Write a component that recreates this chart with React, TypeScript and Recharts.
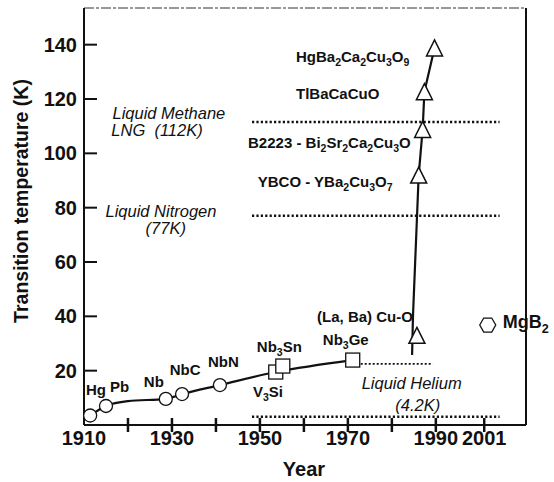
import React from "react";
import { ComposedChart, Line, Scatter, XAxis, YAxis, ReferenceLine } from "recharts";

const FONT = "'Liberation Sans', Arial, Helvetica, sans-serif";

// ---------- data ----------
const lowTcNames = ["Hg", "Pb", "Nb", "NbC", "NbN"];
const lowTcYears = [1911.4, 1915.0, 1928.6, 1932.3, 1940.9];
const lowTcTemps = [3.5, 7.0, 9.6, 11.4, 14.7];

const a15Names = ["V3Si", "Nb3Sn", "Nb3Ge"];
const a15Years = [1953.6, 1955.2, 1971.1];
const a15Temps = [19.5, 21.7, 23.9];

const cuprateNames = ["(La, Ba) Cu-O", "YBCO", "B2223", "TlBaCaCuO", "HgBa2Ca2Cu3O9"];
const cuprateYears = [1985.7, 1986.1, 1987.0, 1987.4, 1989.7];
const cuprateTemps = [33.0, 92.0, 108.8, 122.7, 138.8];

const mgb2Years = [2001.8];
const mgb2Temps = [36.8];

// trend curves
const trendYears = [1911.4, 1915.0, 1920.0, 1928.6, 1932.3, 1940.9, 1953.6, 1971.1];
const trendTemps = [3.5, 7.0, 8.8, 9.6, 11.4, 14.7, 19.5, 23.9];
const cuprateTrendYears = [1984.6, 1984.8, 1986.1, 1987.0, 1987.4, 1989.7];
const cuprateTrendTemps = [25.8, 40.0, 92.0, 108.8, 122.7, 138.8];

// coolant reference levels
const coolantNames = ["Liquid Methane", "Liquid Nitrogen", "Liquid Helium"];
const coolantTemps = [111.5, 77, 3];
const coolantSpan = [1948.2, 2004.5];
const plateauYears = [1971.1, 1989.3];
const plateauTemp = 22.5;

// axis ticks
const xTicks = [1910, 1920, 1930, 1940, 1950, 1960, 1970, 1980, 1990, 2001];
const xTickLabels = [1910, 1930, 1950, 1970, 1990, 2001];
const yTicks = [20, 40, 60, 80, 100, 120, 140];

// annotations (anchor in data units)
const boldLabelTexts = [
  "Hg", "Pb", "Nb", "NbC", "NbN", "Nb_3Sn", "V_3Si", "Nb_3Ge",
  "(La, Ba) Cu-O", "YBCO - YBa_2Cu_3O_7", "B2223 - Bi_2Sr_2Ca_2Cu_3O",
  "TlBaCaCuO", "HgBa_2Ca_2Cu_3O_9",
];
const boldLabelYears = [1910.45, 1915.9, 1923.6, 1929.5, 1938.2, 1949.3, 1948.4, 1964.3, 1963.0, 1949.5, 1947.3, 1958.2, 1958.2];
const boldLabelTemps = [11.0, 12.1, 14.0, 18.4, 21.3, 26.9, 10.3, 29.4, 37.9, 87.6, 101.9, 120.0, 133.6];

const mgb2LabelText = "MgB_2";
const mgb2LabelYear = 2005.2;
const mgb2LabelTemp = 35.7;

const italicLabelTexts = ["Liquid Methane", "LNG  (112K)", "Liquid Nitrogen", "(77K)", "Liquid Helium", "(4.2K)"];
const italicLabelYears = [1929.3, 1926.6, 1927.5, 1928.6, 1984.5, 1985.9];
const italicLabelTemps = [112.8, 106.4, 76.7, 70.3, 13.4, 5.0];

// ---------- built tables ----------
const zip = (ys: number[], ts: number[], names?: string[]) =>
  ys.map((y, i) => ({ year: y, temp: ts[i], name: names ? names[i] : "" }));

const lowTcData = zip(lowTcYears, lowTcTemps, lowTcNames);
const a15Data = zip(a15Years, a15Temps, a15Names);
const cuprateData = zip(cuprateYears, cuprateTemps, cuprateNames);
const mgb2Data = zip(mgb2Years, mgb2Temps, ["MgB2"]);
const trendData = zip(trendYears, trendTemps);
const cuprateTrendData = zip(cuprateTrendYears, cuprateTrendTemps);
const boldLabels = boldLabelYears.map((y, i) => ({ year: y, temp: boldLabelTemps[i], text: boldLabelTexts[i] }));
const mgb2Label = [{ year: mgb2LabelYear, temp: mgb2LabelTemp, text: mgb2LabelText }];
const italicLabels = italicLabelYears.map((y, i) => ({ year: y, temp: italicLabelTemps[i], text: italicLabelTexts[i] }));

// ---------- render helpers ----------
function RichText(props: {
  x: number; y: number; text: string; size: number; anchor: string; weight: string; italic?: boolean;
}) {
  const { x, y, text, size, anchor, weight, italic } = props;
  const parts = text.split(/(_\d)/).filter((p) => p.length > 0);
  const shift = size * 0.28;
  let sub = false;
  const spans = parts.map((p, i) => {
    if (p.startsWith("_")) {
      const dy = sub ? 0 : shift;
      sub = true;
      return (
        <tspan key={i} fontSize={size * 0.7} dy={dy}>
          {p.slice(1)}
        </tspan>
      );
    }
    const dy = sub ? -shift : 0;
    sub = false;
    return (
      <tspan key={i} dy={dy}>
        {p}
      </tspan>
    );
  });
  return (
    <text
      x={x}
      y={y}
      fontSize={size}
      fontWeight={weight}
      fontStyle={italic ? "italic" : "normal"}
      textAnchor={anchor as any}
      fontFamily={FONT}
      fill="#111"
      style={{ whiteSpace: "pre" }}
    >
      {spans}
    </text>
  );
}

const STROKE = "#111";

const CircleMark = (p: any) => (
  <circle cx={p.cx} cy={p.cy} r={6.5} fill="#fff" stroke={STROKE} strokeWidth={1.3} />
);
const SquareMark = (p: any) => (
  <rect x={p.cx - 7} y={p.cy - 7} width={14} height={14} fill="#fff" stroke={STROKE} strokeWidth={1.3} />
);
const TriangleMark = (p: any) => (
  <polygon
    points={`${p.cx},${p.cy - 8} ${p.cx + 8},${p.cy + 8} ${p.cx - 8},${p.cy + 8}`}
    fill="#fff"
    stroke={STROKE}
    strokeWidth={1.5}
  />
);
const HexMark = (p: any) => (
  <polygon
    points={`${p.cx - 8},${p.cy} ${p.cx - 4},${p.cy - 7} ${p.cx + 4},${p.cy - 7} ${p.cx + 8},${p.cy} ${p.cx + 4},${p.cy + 7} ${p.cx - 4},${p.cy + 7}`}
    fill="#fff"
    stroke={STROKE}
    strokeWidth={1.3}
  />
);

const XTick = (p: any) => {
  const v = p.payload.value;
  const show = xTickLabels.includes(v);
  return (
    <g>
      {v !== 1910 && <line x1={p.x} x2={p.x} y1={p.y - 7} y2={p.y + 7} stroke={STROKE} strokeWidth={2.5} />}
      {show && (
        <text x={p.x} y={p.y + 20} textAnchor="middle" fontSize={20} fontWeight="bold" fontFamily={FONT} fill="#111">
          {v}
        </text>
      )}
    </g>
  );
};

const YTickLeft = (p: any) => (
  <g>
    <line x1={p.x} x2={p.x + 13} y1={p.y} y2={p.y} stroke={STROKE} strokeWidth={2} />
    <text x={p.x - 7} y={p.y + 7} textAnchor="end" fontSize={20} fontWeight="bold" fontFamily={FONT} fill="#111">
      {p.payload.value}
    </text>
  </g>
);

const YTickRight = (p: any) => (
  <g>
    <line x1={p.x} x2={p.x - 13} y1={p.y} y2={p.y} stroke={STROKE} strokeWidth={2} />
  </g>
);

export default function App() {
  return (
    <div style={{ position: "absolute", left: 0, top: 0, fontFamily: FONT }}>
      <ComposedChart width={554} height={482} margin={{ top: 7, right: 27, bottom: 56, left: 83 }}>
        <XAxis
          type="number"
          dataKey="year"
          domain={[1910, 2010.5]}
          ticks={xTicks}
          interval={0}
          height={1}
          tickSize={0}
          tickMargin={0}
          tickLine={false}
          axisLine={{ stroke: STROKE, strokeWidth: 2 }}
          tick={<XTick />}
          label={{
            content: (lp: any) => (
              <text x={304} y={476} textAnchor="middle" fontSize={20} fontWeight="bold" fontFamily={FONT} fill="#111">
                Year
              </text>
            ),
          }}
        />
        <XAxis
          xAxisId="top"
          orientation="top"
          type="number"
          dataKey="year"
          domain={[1910, 2010.5]}
          height={1}
          tick={false}
          tickLine={false}
          axisLine={{ stroke: "#333", strokeWidth: 1, strokeDasharray: "10 2 3 2" }}
        />
        <YAxis
          type="number"
          dataKey="temp"
          domain={[0, 153.5]}
          ticks={yTicks}
          interval={0}
          width={1}
          tickSize={0}
          tickMargin={0}
          tickLine={false}
          axisLine={{ stroke: STROKE, strokeWidth: 2 }}
          tick={<YTickLeft />}
          label={{
            content: (lp: any) => (
              <text
                x={28}
                y={201}
                transform="rotate(-90 28 201)"
                textAnchor="middle"
                fontSize={19.5}
                fontWeight="bold"
                fontFamily={FONT}
                fill="#111"
              >
                Transition temperature (K)
              </text>
            ),
          }}
        />
        <YAxis
          yAxisId="right"
          orientation="right"
          type="number"
          domain={[0, 153.5]}
          ticks={yTicks}
          interval={0}
          width={1}
          tickSize={0}
          tickMargin={0}
          tickLine={false}
          axisLine={{ stroke: STROKE, strokeWidth: 2 }}
          tick={<YTickRight />}
        />

        {coolantTemps.map((t, i) => (
          <ReferenceLine
            key={coolantNames[i]}
            segment={[
              { x: coolantSpan[0], y: t },
              { x: coolantSpan[1], y: t },
            ]}
            stroke={STROKE}
            strokeWidth={2.5}
            strokeDasharray="2.2 2.2"
            ifOverflow="visible"
          />
        ))}
        <ReferenceLine
          segment={[
            { x: plateauYears[0], y: plateauTemp },
            { x: plateauYears[1], y: plateauTemp },
          ]}
          stroke={STROKE}
          strokeWidth={1.6}
          strokeDasharray="2 2"
          ifOverflow="visible"
        />

        <Line data={trendData} dataKey="temp" type="monotone" stroke={STROKE} strokeWidth={2.2} dot={false} activeDot={false} isAnimationActive={false} />
        <Line data={cuprateTrendData} dataKey="temp" type="linear" stroke={STROKE} strokeWidth={2.2} dot={false} activeDot={false} isAnimationActive={false} />

        <Scatter data={lowTcData} dataKey="temp" shape={CircleMark} isAnimationActive={false} />
        <Scatter data={a15Data} dataKey="temp" shape={SquareMark} isAnimationActive={false} />
        <Scatter data={cuprateData} dataKey="temp" shape={TriangleMark} isAnimationActive={false} />
        <Scatter data={mgb2Data} dataKey="temp" shape={HexMark} isAnimationActive={false} />

        <Scatter
          data={boldLabels}
          dataKey="temp"
          isAnimationActive={false}
          shape={(p: any) => (
            <RichText x={p.cx} y={p.cy} text={p.payload.text} size={15} anchor="start" weight="bold" />
          )}
        />
        <Scatter
          data={mgb2Label}
          dataKey="temp"
          isAnimationActive={false}
          shape={(p: any) => (
            <RichText x={p.cx} y={p.cy} text={p.payload.text} size={18} anchor="start" weight="bold" />
          )}
        />
        <Scatter
          data={italicLabels}
          dataKey="temp"
          isAnimationActive={false}
          shape={(p: any) => (
            <RichText x={p.cx} y={p.cy} text={p.payload.text} size={16.5} anchor="middle" weight="normal" italic />
          )}
        />
      </ComposedChart>
    </div>
  );
}
